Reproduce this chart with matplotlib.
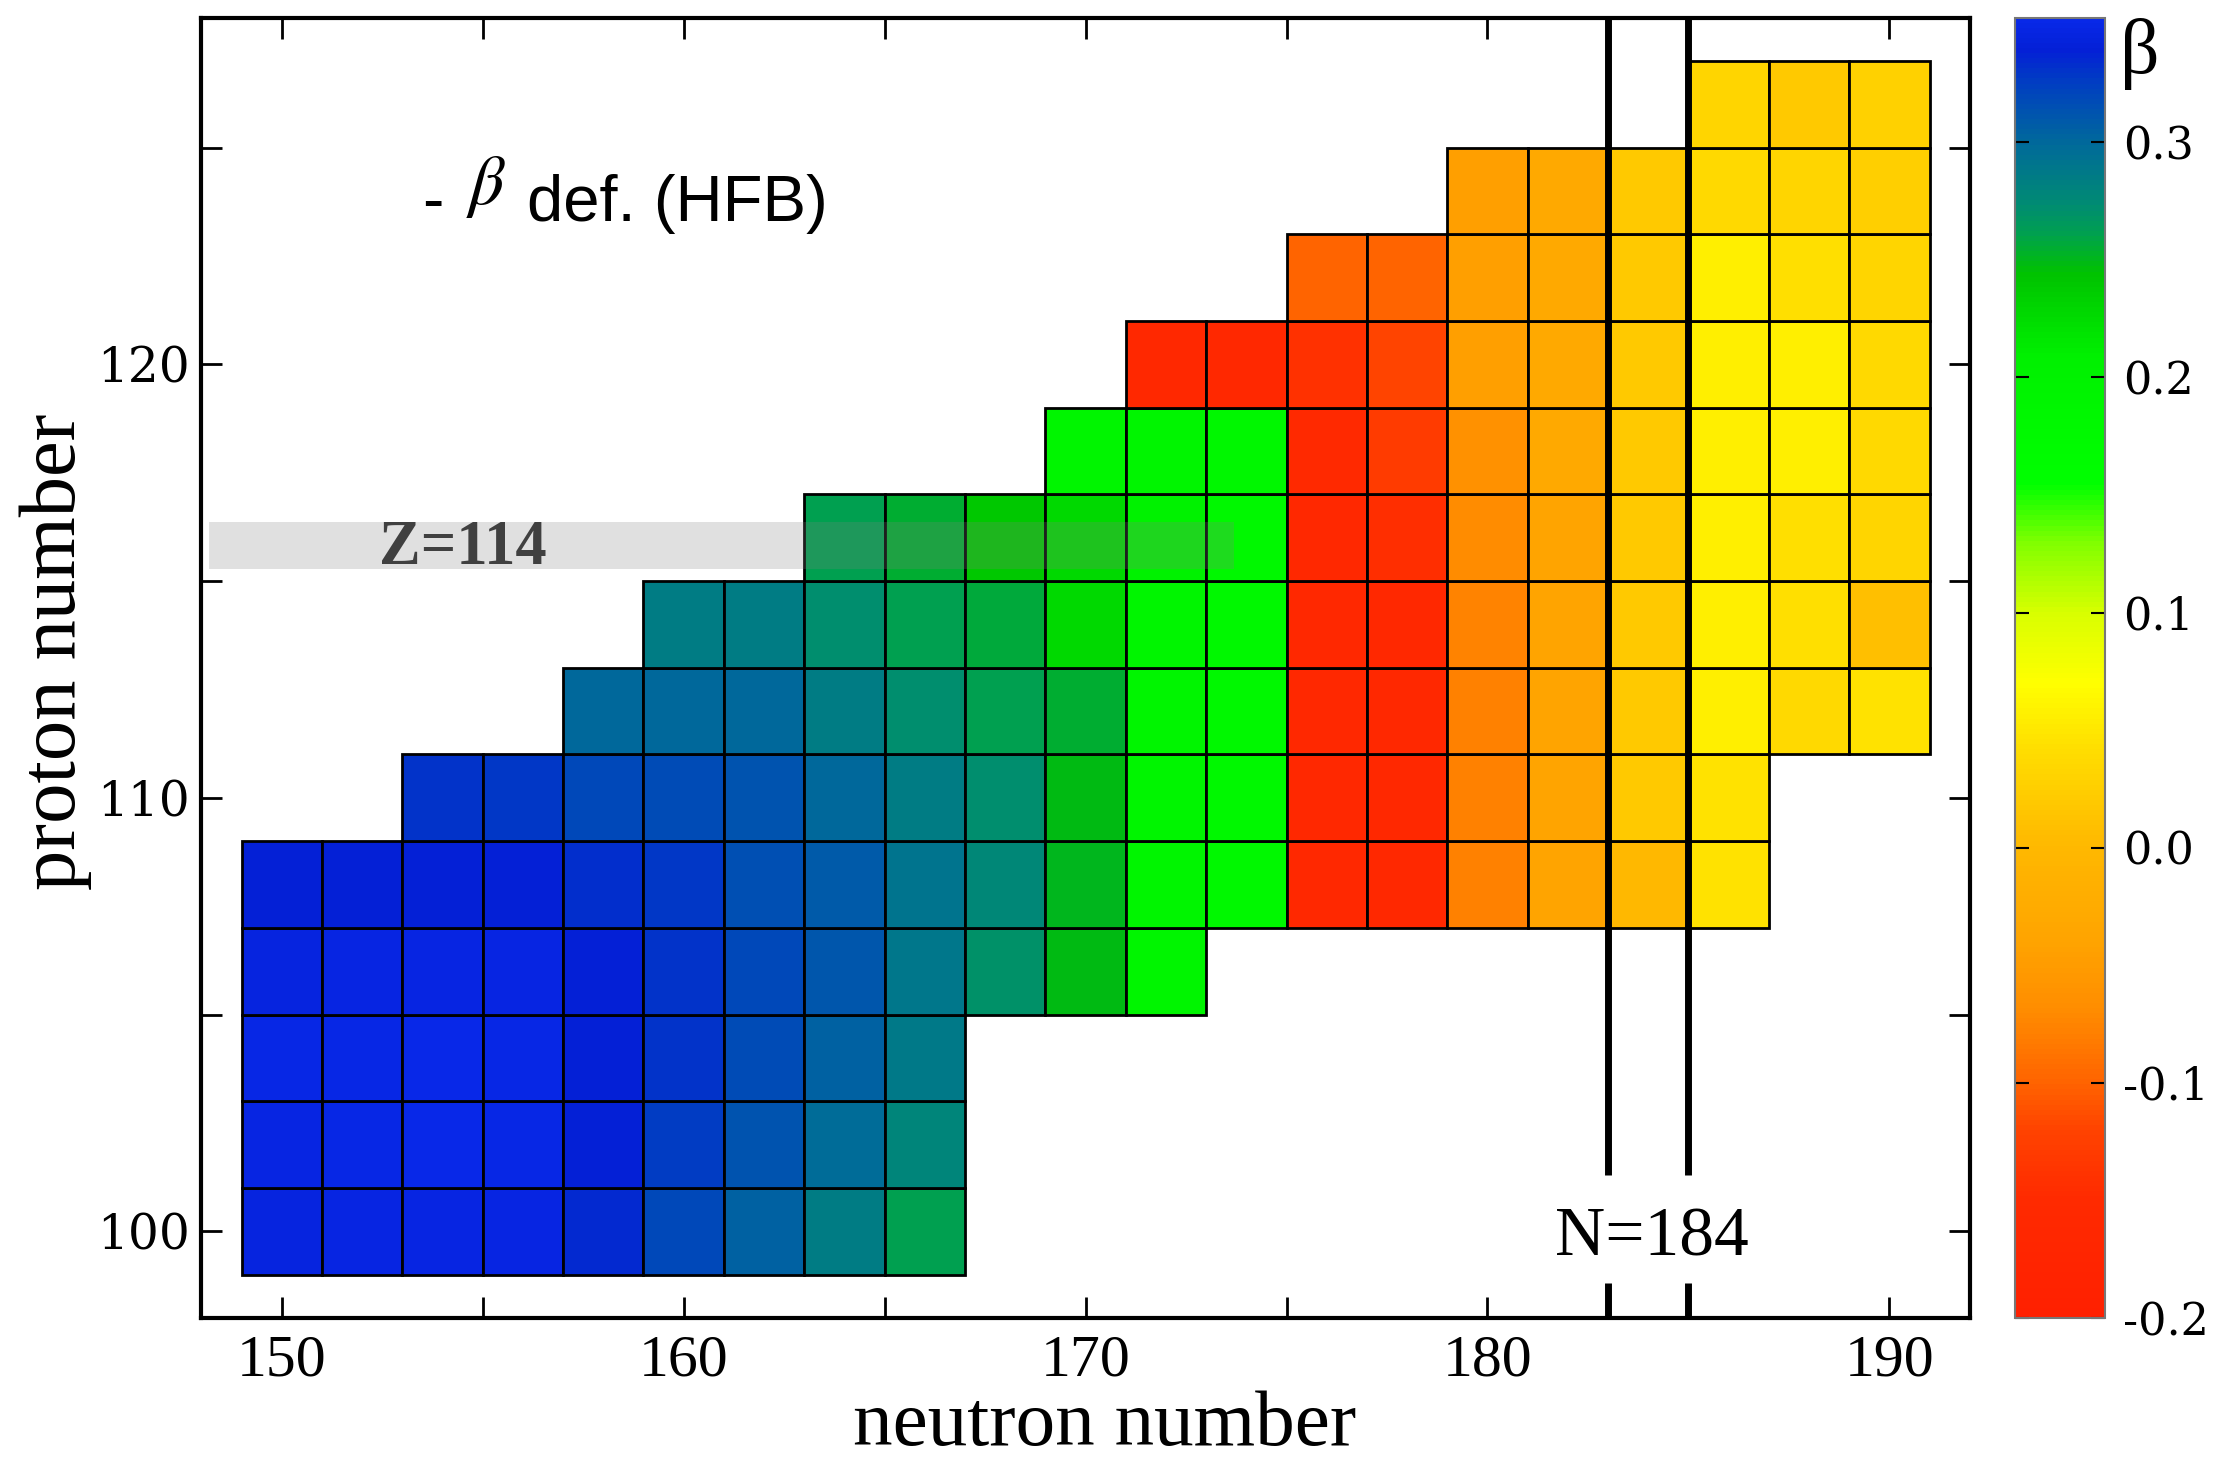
import matplotlib
matplotlib.use("Agg")
import matplotlib.pyplot as plt
import numpy as np
from matplotlib.cm import ScalarMappable
from matplotlib.colors import LinearSegmentedColormap, Normalize
from matplotlib.ticker import MultipleLocator

plt.rcParams["axes.unicode_minus"] = False

# even-even nuclei: one column per neutron number, cells start at z_bottom
# and step by two protons
neutrons = [150, 152, 154, 156, 158, 160, 162, 164, 166, 168, 170,
            172, 174, 176, 178, 180, 182, 184, 186, 188, 190]
z_bottom = [100, 100, 100, 100, 100, 100, 100, 100, 100, 106, 106,
            106, 108, 108, 108, 108, 108, 108, 108, 112, 112]
beta = [
    [0.345, 0.347, 0.350, 0.345, 0.338],
    [0.347, 0.350, 0.350, 0.347, 0.338],
    [0.347, 0.352, 0.352, 0.347, 0.340, 0.330],
    [0.347, 0.350, 0.350, 0.347, 0.340, 0.328],
    [0.335, 0.338, 0.338, 0.338, 0.332, 0.320, 0.300],
    [0.320, 0.325, 0.330, 0.330, 0.328, 0.318, 0.300, 0.285],
    [0.305, 0.313, 0.318, 0.320, 0.315, 0.313, 0.300, 0.285],
    [0.285, 0.298, 0.305, 0.310, 0.308, 0.300, 0.285, 0.272, 0.262],
    [0.262, 0.278, 0.288, 0.290, 0.292, 0.285, 0.272, 0.262, 0.254],
    [0.270, 0.276, 0.272, 0.262, 0.256, 0.240],
    [0.248, 0.250, 0.248, 0.255, 0.226, 0.226, 0.190],
    [0.190, 0.190, 0.190, 0.190, 0.190, 0.200, 0.190, -0.160],
    [0.180, 0.180, 0.180, 0.180, 0.180, 0.185, -0.160],
    [-0.160, -0.160, -0.160, -0.160, -0.160, -0.155, -0.140, -0.100],
    [-0.160, -0.160, -0.160, -0.160, -0.145, -0.130, -0.120, -0.100],
    [-0.078, -0.078, -0.078, -0.075, -0.070, -0.062, -0.045, -0.045, -0.045],
    [-0.040, -0.040, -0.040, -0.040, -0.040, -0.030, -0.030, -0.030, -0.030],
    [0.000, 0.020, 0.020, 0.020, 0.020, 0.020, 0.020, 0.020, 0.020],
    [0.046, 0.046, 0.055, 0.055, 0.055, 0.055, 0.055, 0.055, 0.037, 0.032],
    [0.037, 0.042, 0.042, 0.055, 0.055, 0.042, 0.032, 0.020],
    [0.046, 0.008, 0.032, 0.037, 0.037, 0.032, 0.025, 0.028],
]

shell_lines = [183, 185]
colorbar_ticks = [-0.2, -0.1, 0.0, 0.1, 0.2, 0.3]
beta_range = (-0.2, 0.353)

cmap_stops = [
    (-0.200, "#ff2000"),
    (-0.150, "#ff2a00"),
    (-0.120, "#ff4400"),
    (-0.100, "#ff6400"),
    (-0.070, "#ff8c00"),
    (-0.040, "#ffa400"),
    (0.000, "#ffb800"),
    (0.040, "#ffdc00"),
    (0.070, "#ffff00"),
    (0.100, "#d8ff00"),
    (0.130, "#80ff00"),
    (0.155, "#00ff00"),
    (0.210, "#00f000"),
    (0.245, "#00c200"),
    (0.262, "#00a050"),
    (0.275, "#008a74"),
    (0.300, "#006a9a"),
    (0.325, "#0040c0"),
    (0.340, "#0420d6"),
    (0.353, "#0828e8"),
]

norm = Normalize(*beta_range)
cmap = LinearSegmentedColormap.from_list(
    "beta", [(norm(v), c) for v, c in cmap_stops])

fig = plt.figure(figsize=(22.22, 14.59), dpi=100)
ax = fig.add_axes([0.0906, 0.0966, 0.7959, 0.8914])
cax = fig.add_axes([0.9069, 0.0966, 0.0405, 0.8914])

for n, z0, col in zip(neutrons, z_bottom, beta):
    col = np.asarray(col)
    z = z0 + 2 * np.arange(len(col))
    ax.bar(np.full(len(col), n), 2.0, bottom=z - 1, width=2.0,
           color=cmap(norm(col)), edgecolor="black", linewidth=2, zorder=2)

# shaded strip behind the Z=114 label
ax.fill_between([148.2, 173.7], 115.27, 116.37, color="#808080",
                alpha=0.24, linewidth=0, zorder=3)
ax.text(154.5, 115.75, "Z=114", family="Liberation Serif", weight="bold",
        fontsize=45, color="#404040", ha="center", va="center", zorder=4)

# N=184 shell closure marks
ax.vlines(shell_lines, 101.3, 128, color="black", linewidth=5, zorder=4)
ax.vlines(shell_lines, 98, 98.8, color="black", linewidth=5, zorder=4)
ax.text(184.1, 99.45, "N=184", family="Liberation Serif", fontsize=50,
        ha="center", va="baseline", zorder=5)

ax.text(153.5, 123.7, "-", family="Liberation Sans", fontsize=46,
        ha="left", va="center")
ax.text(155.1, 124.1, r"$\beta$", fontsize=50, ha="center", va="center",
        math_fontfamily="stix")
ax.text(156.1, 123.3, "def. (HFB)", family="Liberation Sans", fontsize=47,
        ha="left", va="baseline")

ax.set_xlim(148, 192)
ax.set_ylim(98, 128)
ax.xaxis.set_major_locator(MultipleLocator(10))
ax.xaxis.set_minor_locator(MultipleLocator(5))
ax.yaxis.set_major_locator(MultipleLocator(10))
ax.yaxis.set_minor_locator(MultipleLocator(5))
ax.tick_params(which="both", direction="in", top=True, right=True,
               length=15, width=2)
ax.tick_params(axis="x", pad=12)
ax.tick_params(axis="y", pad=8)
for lab in ax.get_xticklabels():
    lab.set_family("Liberation Serif")
    lab.set_fontsize(43)
for lab in ax.get_yticklabels():
    lab.set_family("DejaVu Serif")
    lab.set_fontsize(35)
for sp in ax.spines.values():
    sp.set_linewidth(3)

ax.set_xlabel("neutron number", family="Liberation Serif", fontsize=57)
ax.set_ylabel("proton number", family="Liberation Serif", fontsize=58)
ax.xaxis.set_label_coords(0.511, -0.056)
ax.yaxis.set_label_coords(-0.062, 0.512)

cbar = fig.colorbar(ScalarMappable(norm=norm, cmap=cmap), cax=cax)
cbar.outline.set_edgecolor("#777777")
cbar.outline.set_linewidth(1.5)
cbar.set_ticks(colorbar_ticks)
cbar.set_ticklabels([f"{t:.1f}" for t in colorbar_ticks])
cax.tick_params(direction="in", left=True, right=True, length=10,
                width=1.5, pad=13)
for lab in cax.get_yticklabels():
    lab.set_family("DejaVu Serif")
    lab.set_fontsize(32)
cax.text(1.17, 1.0, "β", transform=cax.transAxes, family="Liberation Serif",
         fontsize=56, ha="left", va="top")

fig.savefig("out.png", dpi=100)
